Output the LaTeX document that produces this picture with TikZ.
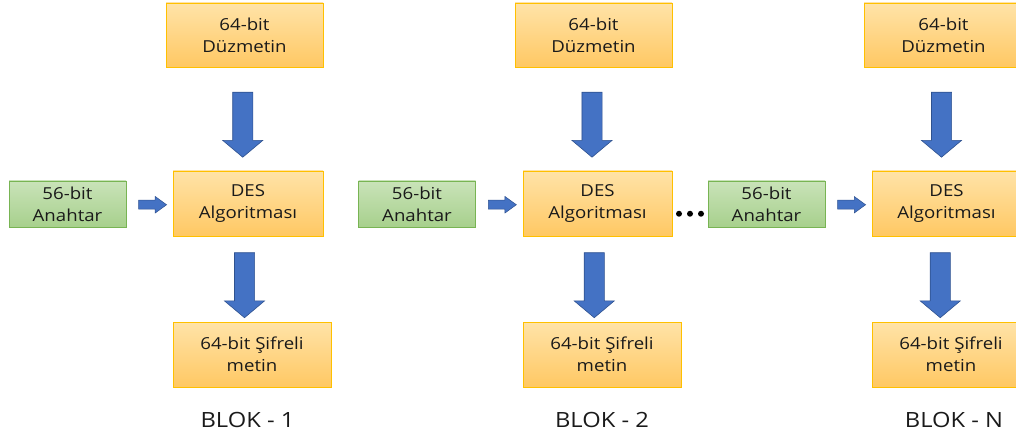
\documentclass[tikz,border=0pt]{standalone}
\usepackage{fontspec}
\setmainfont{Open Sans}[FakeStretch=1.13]
\usetikzlibrary{shapes.arrows,calc}

\definecolor{goldtop}{HTML}{FFE3A8}
\definecolor{goldbot}{HTML}{FFC863}
\definecolor{goldline}{HTML}{FFC000}
\definecolor{greentop}{HTML}{C9E3B9}
\definecolor{greenbot}{HTML}{A7D08C}
\definecolor{greenline}{HTML}{78B453}
\definecolor{arrowblue}{HTML}{4472C4}
\definecolor{arrowline}{HTML}{2F528F}
\definecolor{ink}{HTML}{1A1A1A}

\tikzset{
  textbox/.style={draw=goldline, line width=0.9pt, top color=goldtop, bottom color=goldbot,
    text=ink, align=center, inner sep=0pt,
    font=\fontsize{16.5}{22}\selectfont},
  keybox/.style={draw=greenline, line width=0.9pt, top color=greentop, bottom color=greenbot,
    text=ink, align=center, inner sep=0pt, minimum width=117pt, minimum height=46pt,
    font=\fontsize{16.5}{22}\selectfont},
  bigarrow/.style={single arrow, draw=arrowline, line width=0.6pt, fill=arrowblue,
    inner xsep=0pt, inner ysep=9.75pt, single arrow head extend=10pt,
    single arrow tip angle=100, minimum height=65pt, rotate=-90},
  sidearrow/.style={single arrow, draw=arrowline, line width=0.5pt, fill=arrowblue,
    inner xsep=0pt, inner ysep=4.25pt, single arrow head extend=3.75pt,
    single arrow tip angle=72, minimum height=28pt},
  blocklabel/.style={text=ink, anchor=base, font=\fontsize{21}{25}\selectfont},
}

\begin{document}
\begin{tikzpicture}[x=1pt,y=-1pt]
\useasboundingbox (0,0) rectangle (1016,435);

% ---- block 1 ----
\node[textbox, minimum width=157pt, minimum height=64pt] (pt1) at (244.5,35) {64-bit\\Düzmetin};
\node[textbox, minimum width=150pt, minimum height=65pt] (des1) at (248,203.5) {DES\\Algoritması};
\node[textbox, minimum width=158pt, minimum height=65pt] (ct1) at (252,354.5) {64-bit Şifreli\\metin};
\node[keybox] (key1) at (67.5,204) {56-bit\\Anahtar};
\node[bigarrow] (a1) at ($(pt1.south)!0.5!(des1.north)+(-3.5,1.5)$) {};
\node[bigarrow] (b1) at ($(des1.south)!0.5!(ct1.north)+(-5.5,2)$) {};
\node[sidearrow] (k1) at ($(key1.east)!0.5!(des1.west)+(0,1)$) {};
\node[blocklabel] (l1) at (247.5,427) {BLOK - 1};

% ---- block 2 ----
\node[textbox, minimum width=157pt, minimum height=64pt] (pt2) at (593.5,35) {64-bit\\Düzmetin};
\node[textbox, minimum width=149pt, minimum height=65pt] (des2) at (597.5,203.5) {DES\\Algoritması};
\node[textbox, minimum width=158pt, minimum height=65pt] (ct2) at (602,354.5) {64-bit Şifreli\\metin};
\node[keybox] (key2) at (417,204) {56-bit\\Anahtar};
\node[bigarrow] (a2) at ($(pt2.south)!0.5!(des2.north)+(-3.5,1.5)$) {};
\node[bigarrow] (b2) at ($(des2.south)!0.5!(ct2.north)+(-5.5,2)$) {};
\node[sidearrow] (k2) at ($(key2.east)!0.5!(des2.west)+(0,1)$) {};
\node[blocklabel] (l2) at (602,427) {BLOK - 2};

% ---- block N ----
\node[textbox, minimum width=159pt, minimum height=64pt] (pt3) at (943.5,35) {64-bit\\Düzmetin};
\node[textbox, minimum width=149pt, minimum height=65pt] (des3) at (946.5,203.5) {DES\\Algoritması};
\node[textbox, minimum width=158pt, minimum height=65pt] (ct3) at (951,354.5) {64-bit Şifreli\\metin};
\node[keybox] (key3) at (766.5,204) {56-bit\\Anahtar};
\node[bigarrow] (a3) at ($(pt3.south)!0.5!(des3.north)+(-3.5,1.5)$) {};
\node[bigarrow] (b3) at ($(des3.south)!0.5!(ct3.north)+(-8.5,2)$) {};
\node[sidearrow] (k3) at ($(key3.east)!0.5!(des3.west)+(0,1)$) {};
\node[blocklabel] (l3) at (954,427) {BLOK - N};

% ---- continuation dots between block 2 and block N ----
\coordinate (gap) at ($(des2.east)!0.5!(key3.west)+(0,10)$);
\foreach \dx in {-11,0,11}
  \fill[black] ($(gap)+(\dx,0)$) circle (3pt);
\end{tikzpicture}
\end{document}
